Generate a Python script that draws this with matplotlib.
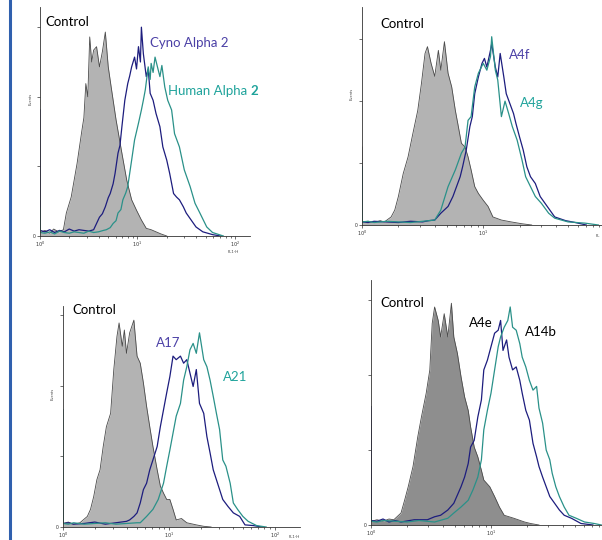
import matplotlib
matplotlib.use("Agg")
import matplotlib.pyplot as plt
import numpy as np
from matplotlib.lines import Line2D

plt.rcParams['font.family'] = ['Lato', 'DejaVu Sans']

# histogram points: position in decades (log10 FL1) and event counts (ticks every 100)
ctrl1_dec = [0.00, 0.003, 0.05, 0.10, 0.14, 0.19, 0.24, 0.27, 0.32, 0.38, 0.43, 0.45, 0.47, 0.49, 0.51, 0.53, 0.55,
             0.58, 0.61, 0.64, 0.67, 0.70, 0.73, 0.78, 0.84, 0.89, 0.94, 0.99, 1.04, 1.09, 1.14, 1.19, 1.24, 1.30]
ctrl1_cnt = [30, 5, 8, 4, 10, 6, 9, 33, 56, 104, 152, 170, 219, 200, 286, 250, 267,
             272, 243, 265, 293, 243, 214, 167, 119, 80, 52, 37, 23, 11, 9, 6, 3, 0]
cyno_dec = [0.00, 0.003, 0.05, 0.10, 0.15, 0.20, 0.25, 0.30, 0.35, 0.40, 0.45, 0.50, 0.55, 0.58, 0.61, 0.64, 0.67,
            0.70, 0.72, 0.75, 0.77, 0.80, 0.82, 0.84, 0.87, 0.90, 0.92, 0.94, 0.97, 0.99, 1.01, 1.03, 1.04, 1.06,
            1.09, 1.11, 1.13, 1.16, 1.19, 1.23, 1.26, 1.30, 1.33, 1.37, 1.40, 1.43, 1.47, 1.50, 1.55, 1.60, 1.67,
            1.77, 1.85]
cyno_cnt = [181, 8, 6, 9, 5, 8, 6, 10, 7, 9, 8, 7, 9, 18, 27, 32, 42,
            55, 61, 75, 90, 119, 130, 157, 195, 219, 230, 243, 257, 240, 272, 250, 300, 262,
            229, 240, 205, 195, 176, 157, 128, 109, 90, 61, 56, 52, 42, 33, 23, 13, 6,
            2, 0]
human_dec = [0.00, 0.003, 0.05, 0.10, 0.15, 0.20, 0.25, 0.30, 0.35, 0.40, 0.45, 0.50, 0.55, 0.60, 0.65, 0.68, 0.72,
             0.75, 0.78, 0.80, 0.83, 0.85, 0.88, 0.90, 0.92, 0.94, 0.97, 1.01, 1.04, 1.06, 1.08, 1.11, 1.13, 1.14,
             1.16, 1.18, 1.21, 1.23, 1.25, 1.28, 1.31, 1.35, 1.38, 1.43, 1.48, 1.54, 1.59, 1.64, 1.71, 1.77, 1.88]
human_cnt = [40, 5, 4, 6, 3, 7, 5, 4, 6, 5, 4, 7, 5, 6, 8, 9, 12,
             18, 22, 33, 38, 52, 62, 71, 90, 109, 138, 162, 181, 195, 210, 243, 225, 248,
             235, 257, 240, 229, 245, 214, 195, 181, 147, 128, 95, 71, 47, 33, 13, 5, 0]

ctrl2_dec = [0.00, 0.003, 0.05, 0.10, 0.15, 0.185, 0.24, 0.27, 0.30, 0.34, 0.38, 0.42, 0.46, 0.49, 0.52, 0.54, 0.57,
             0.60, 0.63, 0.65, 0.68, 0.71, 0.74, 0.77, 0.79, 0.82, 0.85, 0.875, 0.90, 0.93, 0.96, 1.00, 1.04, 1.08,
             1.15, 1.23, 1.32, 1.40]
ctrl2_cnt = [126, 5, 6, 4, 7, 5, 13, 24, 46, 83, 110, 148, 185, 228, 277, 288, 261,
             240, 282, 250, 296, 245, 223, 185, 164, 132, 126, 110, 89, 62, 51, 40, 30, 13,
             8, 5, 2, 0]
a4f_dec = [0.00, 0.003, 0.05, 0.10, 0.20, 0.30, 0.40, 0.50, 0.55, 0.60, 0.65, 0.71, 0.75, 0.78, 0.81, 0.83, 0.86,
           0.89, 0.91, 0.93, 0.96, 0.99, 1.01, 1.03, 1.06, 1.07, 1.10, 1.12, 1.14, 1.17, 1.19, 1.22, 1.25, 1.27,
           1.30, 1.33, 1.36, 1.39, 1.43, 1.47, 1.51, 1.55, 1.59, 1.68, 1.76, 1.85]
a4f_cnt = [94, 5, 4, 6, 5, 4, 6, 5, 7, 8, 19, 30, 46, 62, 78, 94, 121,
           159, 175, 212, 239, 261, 269, 255, 282, 293, 255, 239, 277, 239, 212, 196, 180, 164,
           142, 121, 94, 78, 67, 46, 35, 24, 13, 7, 4, 0]
a4g_dec = [0.00, 0.003, 0.05, 0.10, 0.20, 0.30, 0.40, 0.50, 0.55, 0.60, 0.65, 0.71, 0.77, 0.82, 0.85, 0.875, 0.90,
           0.93, 0.96, 1.00, 1.03, 1.06, 1.07, 1.10, 1.12, 1.15, 1.18, 1.21, 1.24, 1.28, 1.32, 1.35, 1.39, 1.43,
           1.48, 1.54, 1.59, 1.70, 1.84, 1.95]
a4g_cnt = [94, 5, 6, 4, 6, 5, 4, 6, 7, 8, 24, 62, 89, 116, 126, 169, 175,
           223, 245, 261, 250, 272, 304, 250, 234, 175, 200, 180, 159, 137, 105, 78, 62, 46,
           35, 19, 11, 5, 3, 0]

ctrl3_dec = [0.00, 0.003, 0.05, 0.10, 0.16, 0.23, 0.26, 0.29, 0.32, 0.35, 0.38, 0.41, 0.45, 0.48, 0.51, 0.53, 0.56,
             0.58, 0.60, 0.63, 0.67, 0.70, 0.73, 0.76, 0.79, 0.82, 0.85, 0.89, 0.92, 0.95, 0.98, 1.01, 1.04, 1.07,
             1.12, 1.17, 1.26, 1.33, 1.40]
ctrl3_cnt = [30, 5, 7, 4, 6, 15, 25, 43, 67, 81, 114, 142, 161, 223, 270, 289, 256,
             279, 246, 275, 293, 242, 232, 204, 171, 142, 114, 81, 58, 48, 39, 39, 25, 10,
             12, 6, 3, 1, 0]
a17_dec = [0.00, 0.003, 0.05, 0.10, 0.20, 0.30, 0.40, 0.50, 0.60, 0.63, 0.67, 0.70, 0.73, 0.76, 0.79, 0.82, 0.85,
           0.89, 0.92, 0.95, 0.98, 1.01, 1.04, 1.07, 1.11, 1.14, 1.17, 1.20, 1.23, 1.26, 1.29, 1.33, 1.36, 1.39,
           1.42, 1.45, 1.48, 1.51, 1.56, 1.61, 1.67, 1.72, 1.80, 1.88]
a17_cnt = [50, 5, 6, 4, 5, 7, 4, 6, 8, 10, 15, 20, 34, 53, 62, 81, 95,
           114, 142, 166, 190, 213, 242, 237, 242, 232, 237, 218, 199, 223, 175, 161, 128, 105,
           81, 67, 53, 39, 29, 20, 15, 3, 2, 0]
a21_dec = [0.00, 0.003, 0.05, 0.10, 0.20, 0.30, 0.40, 0.50, 0.60, 0.70, 0.73, 0.79, 0.85, 0.90, 0.95, 0.98, 1.01,
           1.04, 1.07, 1.11, 1.14, 1.17, 1.20, 1.23, 1.26, 1.29, 1.33, 1.36, 1.39, 1.42, 1.45, 1.48, 1.51, 1.54,
           1.58, 1.61, 1.65, 1.70, 1.75, 1.83, 1.92]
a21_cnt = [166, 5, 4, 6, 4, 5, 6, 4, 5, 6, 6, 15, 25, 39, 62, 86, 109,
           133, 157, 175, 208, 227, 251, 260, 246, 275, 237, 227, 208, 185, 161, 138, 95, 86,
           62, 34, 25, 15, 8, 2, 0]

ctrl4_dec = [0.00, 0.003, 0.05, 0.10, 0.15, 0.19, 0.25, 0.28, 0.31, 0.35, 0.39, 0.42, 0.46, 0.49, 0.51, 0.53, 0.56,
             0.58, 0.61, 0.64, 0.67, 0.69, 0.72, 0.75, 0.78, 0.81, 0.83, 0.86, 0.89, 0.92, 0.94, 0.99, 1.03, 1.07,
             1.11, 1.19, 1.28, 1.33, 1.40]
ctrl4_cnt = [140, 5, 7, 5, 8, 7, 16, 33, 51, 78, 118, 144, 176, 207, 269, 291, 273,
             251, 282, 251, 296, 251, 229, 198, 171, 153, 131, 104, 91, 73, 60, 51, 38, 24,
             13, 9, 4, 2, 0]
a4e_dec = [0.00, 0.003, 0.05, 0.10, 0.15, 0.20, 0.25, 0.36, 0.47, 0.53, 0.58, 0.64, 0.69, 0.75, 0.78, 0.81, 0.83,
           0.86, 0.89, 0.92, 0.94, 0.97, 1.00, 1.03, 1.06, 1.08, 1.10, 1.13, 1.15, 1.18, 1.21, 1.24, 1.26, 1.29,
           1.32, 1.35, 1.38, 1.40, 1.43, 1.46, 1.49, 1.53, 1.57, 1.61, 1.67, 1.75, 1.85]
a4e_cnt = [158, 6, 5, 8, 4, 6, 4, 7, 7, 11, 13, 20, 29, 51, 64, 82, 104,
           113, 144, 167, 207, 220, 238, 256, 260, 273, 233, 247, 224, 207, 211, 193, 176, 153,
           140, 109, 91, 78, 64, 51, 38, 29, 20, 13, 9, 2, 0]
a14b_dec = [0.00, 0.003, 0.05, 0.10, 0.20, 0.30, 0.40, 0.53, 0.64, 0.69, 0.75, 0.81, 0.85, 0.89, 0.92, 0.94, 0.97,
            1.00, 1.03, 1.06, 1.08, 1.11, 1.14, 1.16, 1.18, 1.21, 1.24, 1.26, 1.29, 1.32, 1.35, 1.38, 1.40, 1.43,
            1.46, 1.49, 1.51, 1.54, 1.57, 1.61, 1.65, 1.71, 1.78, 1.86, 1.92]
a14b_cnt = [20, 5, 4, 6, 5, 4, 6, 4, 9, 16, 24, 33, 47, 64, 87, 127, 153,
            176, 207, 238, 251, 264, 273, 291, 264, 260, 242, 224, 211, 193, 180, 185, 156, 136,
            100, 87, 69, 51, 38, 24, 13, 9, 4, 2, 0]

NAVY = '#1d1d7e'
TEAL = '#2a9189'
NAVY_TXT = '#4b40a6'
TEAL_TXT = '#1fa39b'

fig = plt.figure(figsize=(6.02, 5.4), dpi=100)
fig.patch.set_facecolor('white')
fig.add_artist(Line2D([10 / 602, 10 / 602], [0, 1], color='#3060ae', lw=2.2, transform=fig.transFigure))


def panel(rect, xmax, ymax, ctrl, s1, s2, fill, labels, xlabel=None, ylabel=True):
    ax = fig.add_axes(rect)
    ax.fill_between(10 ** np.array(ctrl[0]), ctrl[1], color=fill, lw=0)
    ax.plot(10 ** np.array(ctrl[0]), ctrl[1], color='#4a4a4a', lw=0.6)
    ax.plot(10 ** np.array(s1[0]), s1[1], color=NAVY, lw=0.9)
    ax.plot(10 ** np.array(s2[0]), s2[1], color=TEAL, lw=0.9)
    ax.set_xscale('log')
    ax.set_xlim(1, 10 ** xmax)
    ax.set_ylim(0, ymax)
    for s in ['top', 'right']:
        ax.spines[s].set_visible(False)
    for s in ['left', 'bottom']:
        ax.spines[s].set_linewidth(0.6)
        ax.spines[s].set_color('#333333')
    # only label decades that fall inside the axis
    decades = [d for d in [0, 1, 2] if d <= xmax]
    ax.set_xticks([10 ** d for d in decades])
    ax.set_xticklabels([r'$10^%d$' % d for d in decades])
    ax.set_yticks([0, 100, 200, 300])
    ax.set_yticklabels(['0', '', '', ''])
    ax.tick_params(axis='both', which='major', length=2, width=0.5, labelsize=3.5, pad=1, colors='#333333')
    ax.tick_params(axis='x', which='minor', length=1.2, width=0.4)
    ax.tick_params(axis='x', which='minor', labelbottom=False)
    if ylabel:
        ax.text(-0.045, 0.6, 'Events', rotation=90, fontsize=3, ha='center', va='center',
                transform=ax.transAxes, color='#444444')
    if xlabel:
        ax.text(xlabel[0], xlabel[1], xlabel[2], fontsize=3, ha=xlabel[3], va='top',
                transform=ax.transAxes, color='#444444')
    for txt, x, y, c in labels:
        ax.text(10 ** x, y, txt, color=c, fontsize=9.5, ha='left', va='center')
    return ax


ax1 = panel([40 / 602, 1 - 236 / 540, 210 / 602, 229 / 540], 2.154, 329,
            (ctrl1_dec, ctrl1_cnt), (cyno_dec, cyno_cnt), (human_dec, human_cnt), '#b3b3b3',
            [('Control', 0.06, 307, 'black'), ('Cyno Alpha 2', 1.13, 277, NAVY_TXT)],
            xlabel=(0.92, -0.062, 'FL1-H', 'center'))
t = ax1.text(10 ** 1.31, 209, 'Human Alpha', color=TEAL_TXT, fontsize=9.5, ha='left', va='center')
ax1.annotate('2', xy=(1, 0), xycoords=t, xytext=(2.5, 0), textcoords='offset points',
             color=TEAL_TXT, fontsize=9.5, fontweight='bold', ha='left', va='bottom')

panel([362 / 602, 1 - 225 / 540, 240 / 602, 218 / 540], 1.98, 352,
      (ctrl2_dec, ctrl2_cnt), (a4f_dec, a4f_cnt), (a4g_dec, a4g_cnt), '#b3b3b3',
      [('Control', 0.15, 324, 'black'), ('A4f', 1.21, 274, NAVY_TXT), ('A4g', 1.30, 197, TEAL_TXT)],
      xlabel=(0.99, -0.04, 'FL', 'right'))

panel([63 / 602, 1 - 527 / 540, 237 / 602, 221 / 540], 2.24, 313,
      (ctrl3_dec, ctrl3_cnt), (a17_dec, a17_cnt), (a21_dec, a21_cnt), '#b3b3b3',
      [('Control', 0.085, 307, 'black'), ('A17', 0.88, 261, NAVY_TXT), ('A21', 1.51, 212, TEAL_TXT)],
      xlabel=(0.95, -0.036, 'FL1-H', 'left'))

panel([371 / 602, 1 - 525 / 540, 231 / 602, 245 / 540], 1.925, 327,
      (ctrl4_dec, ctrl4_cnt), (a4e_dec, a4e_cnt), (a14b_dec, a14b_cnt), '#8e8e8e',
      [('Control', 0.075, 296, 'black'), ('A4e', 0.82, 269, 'black'), ('A14b', 1.28, 257, 'black')],
      ylabel=False)

fig.savefig('out.png', dpi=100, facecolor='white')
